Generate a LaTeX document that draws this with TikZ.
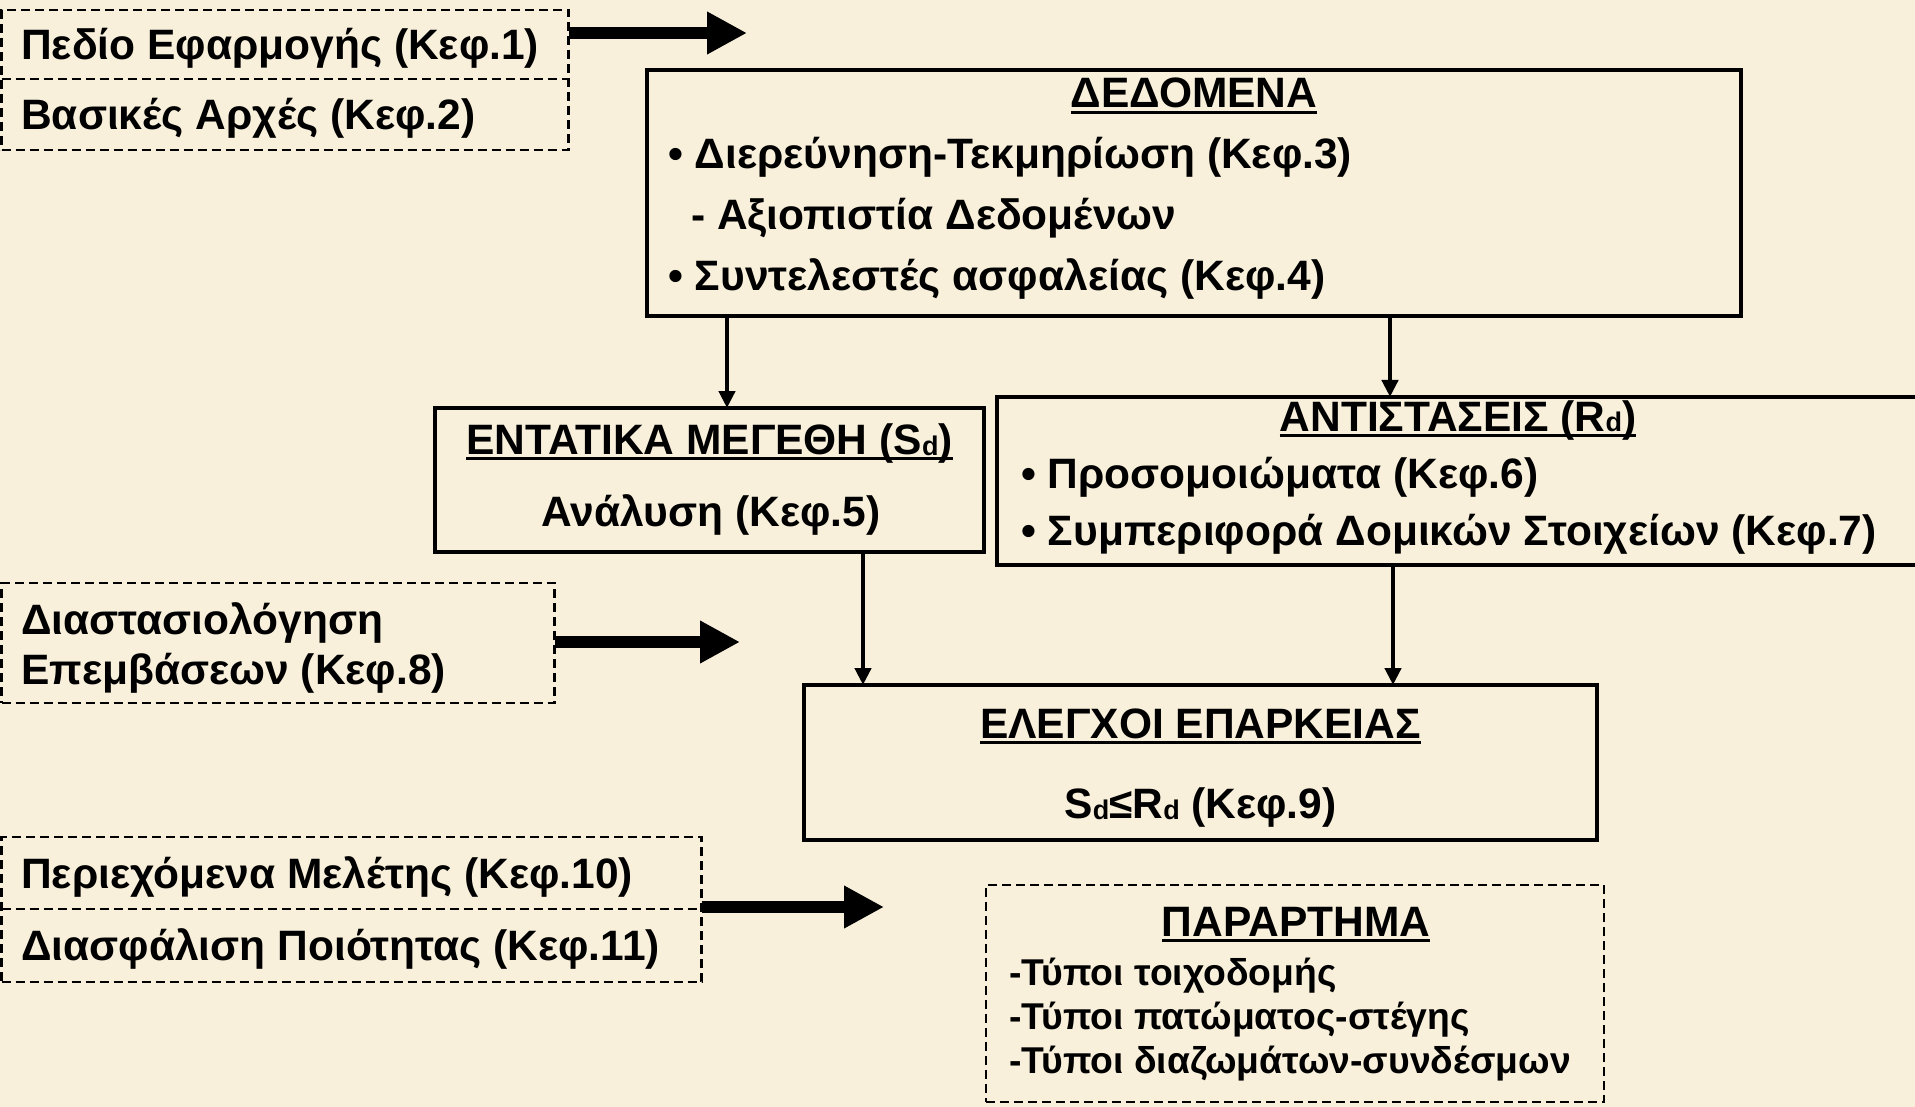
\documentclass[tikz,border=0pt]{standalone}
\usepackage{fontspec}
\setmainfont{Liberation Sans}
\usetikzlibrary{arrows.meta}
\definecolor{paper}{RGB}{248,240,219}
\newcommand\myul[1]{\setbox0\hbox{#1}\rlap{\rule[-6pt]{\wd0}{3pt}}\box0}
\newcommand\subd{\raisebox{-1pt}{\fontsize{27}{27}\selectfont d}}
\begin{document}
\begin{tikzpicture}[x=1pt,y=-1pt,
  font=\fontsize{42.5}{50}\selectfont\bfseries,
  box/.style={draw, line width=4.5pt, inner sep=0pt, outer sep=0pt},
  dbox/.style={draw, line width=2.5pt, dash pattern=on 9pt off 5pt, inner sep=0pt, outer sep=0pt},
  dline/.style={line width=2.5pt, dash pattern=on 9pt off 5pt},
  txt/.style={inner sep=0pt, anchor=base west},
  ctxt/.style={inner sep=0pt, anchor=base},
  smalltxt/.style={inner sep=0pt, anchor=base west, font=\fontsize{37.3}{44}\selectfont\bfseries},
  bigarrow/.style={line width=12pt, -{Triangle[length=40pt,width=40pt]}},
  smallarrow/.style={line width=4.5pt, -{Triangle[length=17pt,width=16pt]}}]
\fill[paper] (0,0) rectangle (1915,1107);
\useasboundingbox (0,0) rectangle (1915,1107);
\clip (0,0) rectangle (1915,1107);

% top-left dashed group
\node[dbox, minimum width=567pt, minimum height=140pt] (P) at (285,80) {};
\coordinate (d1) at (0,79);
\draw[dline] (P.west |- d1) -- (P.east |- d1);
\node[txt] (t1) at (21,60) {Πεδίο Εφαρμογής (Κεφ.1)};
\node[txt] (t2) at (21,130) {Βασικές Αρχές (Κεφ.2)};
\coordinate (a1) at (747,33);
\draw[bigarrow] (P.east |- a1) -- (a1);

% DEDOMENA
\node[box, minimum width=1094pt, minimum height=246pt] (D) at (1194,193) {};
\node[ctxt] (Dt) at (1194,108) {\myul{ΔΕΔΟΜΕΝΑ}};
\node[txt] (D1) at (668,169) {• Διερεύνηση-Τεκμηρίωση (Κεφ.3)};
\node[txt] (D2) at (691,230) {- Αξιοπιστία Δεδομένων};
\node[txt] (D3) at (668,291) {• Συντελεστές ασφαλείας (Κεφ.4)};

% ENTATIKA
\node[box, minimum width=549pt, minimum height=144pt] (E) at (709.5,480) {};
\node[ctxt] (Et) at (709.5,454) {\myul{ΕΝΤΑΤΙΚΑ ΜΕΓΕΘΗ (S\subd)}};
\node[ctxt] (E1) at (711,526) {Ανάλυση (Κεφ.5)};

% ANTISTASEIS
\node[box, minimum width=922pt, minimum height=168pt] (A) at (1458,481) {};
\node[ctxt] (At) at (1458,431) {\myul{ΑΝΤΙΣΤΑΣΕΙΣ (R\subd)}};
\node[txt] (A1) at (1021,488) {• Προσομοιώματα (Κεφ.6)};
\node[txt] (A2) at (1021,545) {• Συμπεριφορά Δομικών Στοιχείων (Κεφ.7)};

% ELEGXOI
\node[box, minimum width=793pt, minimum height=155pt] (L) at (1200.5,762.5) {};
\node[ctxt] (Lt) at (1200.5,738) {\myul{ΕΛΕΓΧΟΙ ΕΠΑΡΚΕΙΑΣ}};
\node[ctxt] (L1) at (1200.5,818) {S\subd≤R\subd\ (Κεφ.9)};

% Diastasiologisi
\node[dbox, minimum width=553pt, minimum height=120pt] (S) at (278,643) {};
\node[txt] (S1) at (21,634) {Διαστασιολόγηση};
\node[txt] (S2) at (21,684) {Επεμβάσεων (Κεφ.8)};
\coordinate (a2) at (740,642);
\draw[bigarrow] (S.east |- a2) -- (a2);

% Periexomena / Diasfalisi
\node[dbox, minimum width=700pt, minimum height=145pt] (Q) at (351.5,909.5) {};
\coordinate (d2) at (0,909);
\draw[dline] (Q.west |- d2) -- (Q.east |- d2);
\node[txt] (Q1) at (21,888) {Περιεχόμενα Μελέτης (Κεφ.10)};
\node[txt] (Q2) at (21,960) {Διασφάλιση Ποιότητας (Κεφ.11)};
\coordinate (a3) at (884,907);
\draw[bigarrow] (Q.east |- a3) -- (a3);

% PARARTHMA
\node[dbox, minimum width=618pt, minimum height=217pt] (PA) at (1295,993.5) {};
\node[ctxt] (PAt) at (1296,936) {\myul{ΠΑΡΑΡΤΗΜΑ}};
\node[smalltxt] (PA1) at (1009,985) {-Τύποι τοιχοδομής};
\node[smalltxt] (PA2) at (1009,1029) {-Τύποι πατώματος-στέγης};
\node[smalltxt] (PA3) at (1009,1073) {-Τύποι διαζωμάτων-συνδέσμων};

% connectors
\coordinate (x1) at (727,0);
\coordinate (x2) at (1390,0);
\coordinate (x3) at (863,0);
\coordinate (x4) at (1393,0);
\draw[smallarrow] (x1 |- D.south) -- (x1 |- E.north);
\draw[smallarrow] (x2 |- D.south) -- (x2 |- A.north);
\draw[smallarrow] (x3 |- E.south) -- (x3 |- L.north);
\draw[smallarrow] (x4 |- A.south) -- (x4 |- L.north);
\end{tikzpicture}
\end{document}
